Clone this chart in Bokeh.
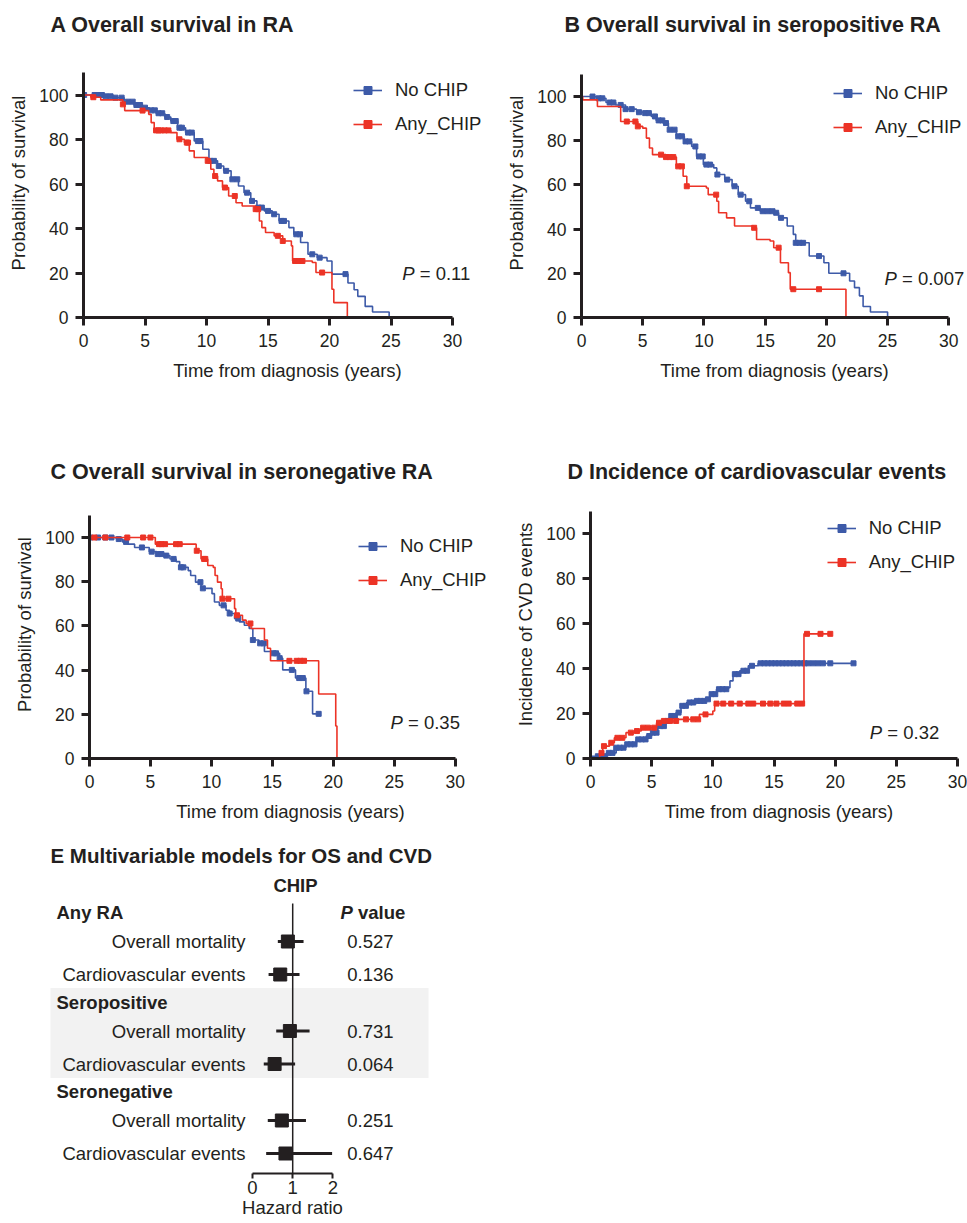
import numpy as np
from bokeh.plotting import figure
from bokeh.models import Range1d, FixedTicker, Label, Legend, LegendItem
from bokeh.layouts import column, row
from bokeh.core.properties import value
from bokeh.embed import file_html
from bokeh.resources import INLINE

FONT = "Liberation Sans"
INK = "#231f20"
BLUE = "#3d5aa8"
RED = "#ec3326"

# ---------------- data ----------------
x_ticks = [0, 5, 10, 15, 20, 25, 30]
y_ticks = [0, 20, 40, 60, 80, 100]
group_labels = ["No CHIP", "Any_CHIP"]
x_label = "Time from diagnosis (years)"
panel_titles = ["A Overall survival in RA", "B Overall survival in seropositive RA",
                "C Overall survival in seronegative RA", "D Incidence of cardiovascular events"]
panel_ylabels = ["Probability of survival", "Probability of survival",
                 "Probability of survival", "Incidence of CVD events"]
panel_pvalues = ["0.11", "0.007", "0.35", "0.32"]

# Panel A
A_no_t = [0, 1.7, 2.5, 3.3, 4.1, 4.8, 5.35, 5.9, 6.6, 7.1, 7.65, 8.3, 9.0, 9.7, 10.2, 10.9, 11.4, 12.0, 12.6, 13.05,
          13.6, 14.1, 14.7, 15.35, 15.9, 16.7, 17.1, 17.65, 18.25, 19.0, 19.8, 20.2, 21.5, 22.0, 22.3, 22.9, 23.5, 24.85]
A_no_s = [100, 99.4, 98.8, 97.0, 95.5, 94.3, 93.1, 91.8, 90.1, 88.3, 85.3, 83.1, 79.3, 75.6, 70.4, 68.1, 65.9, 62.1, 59.1, 56.1,
          52.4, 49.4, 47.9, 46.4, 43.4, 40.4, 37.4, 33.7, 28.4, 26.9, 25.4, 19.5, 15.5, 12.5, 9.5, 5.0, 2.5, 0]
A_no_c = [0.05, 0.9, 1.2, 1.5, 1.8, 2.2, 2.6, 3.1, 3.6, 4.0, 4.3, 4.6, 5.0, 5.5, 5.8, 6.1, 6.4, 6.8, 7.3, 7.5, 7.8, 8.0,
          8.5, 8.8, 9.3, 9.5, 10.3, 10.6, 11.0, 11.6, 12.1, 12.5, 13.3, 13.7, 14.2, 14.5, 15.0, 15.5, 16.1, 16.3, 17.3,
          17.6, 18.6, 19.2, 21.3]
A_any_t = [0, 0.6, 1.4, 3.2, 3.35, 5.3, 5.5, 5.75, 7.1, 7.6, 8.2, 8.6, 9.0, 10.1, 10.35, 10.6, 10.9, 11.3, 11.8, 12.4,
           12.9, 14.0, 14.3, 14.5, 14.8, 15.5, 16.2, 16.9, 17.0, 18.6, 18.9, 20.2, 20.35, 21.45]
A_any_s = [100, 99.0, 97.8, 95.8, 93.0, 91.3, 87.6, 84.1, 83.1, 80.1, 78.6, 74.9, 71.9, 70.4, 66.6, 63.6, 61.4, 58.4, 54.6, 51.6,
           50.1, 48.7, 43.4, 40.4, 38.2, 36.7, 34.4, 32.2, 25.4, 24.7, 20.2, 12.7, 6.7, 0]
A_any_c = [0.8, 3.2, 4.8, 5.9, 6.1, 6.3, 6.6, 6.9, 7.8, 8.4, 8.5, 10.1, 10.7, 11.5, 12.3, 14.0, 14.2, 15.8, 16.2, 17.2,
           17.5, 17.8, 19.4]

# Panel B
B_no_t = [0, 1.2, 2.0, 2.8, 3.6, 4.5, 5.15, 5.7, 6.1, 6.65, 7.1, 7.75, 8.4, 9.0, 9.4, 9.95, 10.8, 11.05, 11.7, 12.3,
          12.8, 13.4, 13.8, 14.6, 15.7, 16.1, 16.8, 17.3, 17.5, 18.6, 19.8, 20.2, 21.9, 22.3, 22.7, 23.0, 23.6, 25.0]
B_no_s = [100, 99.2, 97.3, 96.2, 94.3, 92.9, 92.5, 91.0, 89.2, 88.0, 85.0, 82.0, 79.7, 77.4, 72.9, 69.2, 67.7, 64.7, 62.4, 59.4,
          55.6, 52.6, 49.6, 48.1, 47.4, 45.1, 41.4, 37.6, 33.8, 27.8, 24.8, 20.0, 16.5, 13.5, 9.8, 5.0, 2.5, 0]
B_no_c = [0.9, 1.4, 1.7, 2.3, 2.6, 3.2, 3.6, 4.1, 4.7, 5.2, 5.5, 6.0, 6.3, 6.6, 6.9, 7.2, 7.6, 7.9, 8.2, 8.5, 8.8, 9.3,
          9.6, 9.9, 10.2, 10.5, 11.1, 11.9, 12.5, 13.0, 13.7, 14.4, 14.8, 15.2, 15.6, 15.9, 16.3, 17.5, 17.8, 18.1,
          19.4, 21.4]
B_any_t = [0, 0.1, 1.3, 3.2, 4.6, 5.0, 5.3, 5.55, 5.8, 6.9, 7.75, 8.3, 8.6, 10.2, 10.35, 11.05, 11.2, 11.85, 12.5, 14.05,
           14.3, 15.4, 15.7, 16.25, 16.9, 17.05, 21.6]
B_any_s = [100, 98.5, 95.5, 88.7, 86.5, 85.7, 81.2, 76.7, 73.7, 72.6, 68.4, 63.9, 59.4, 58.6, 55.6, 52.6, 47.4, 45.1, 41.4, 40.6,
           35.3, 34.6, 31.6, 24.8, 20.3, 12.8, 0]
B_any_c = [3.7, 4.4, 4.6, 6.5, 6.9, 7.2, 7.5, 7.9, 8.2, 8.6, 11.0, 14.1, 16.1, 17.3, 19.4]

# Panel C
C_no_t = [0, 2.2, 2.7, 3.15, 3.7, 4.9, 5.5, 6.3, 6.6, 7.1, 7.4, 8.1, 8.3, 8.7, 9.15, 10.05, 10.25, 10.65, 11.2, 11.5,
          11.9, 12.3, 12.7, 13.1, 13.4, 13.9, 14.35, 15.0, 15.6, 15.85, 16.9, 17.75, 18.3, 18.8]
C_no_s = [100, 99.3, 98.0, 97.0, 95.5, 93.6, 92.5, 91.8, 90.3, 89.1, 86.5, 85.0, 82.8, 79.8, 77.0, 74.6, 70.8, 69.3, 67.1, 65.6,
          63.3, 61.8, 60.3, 58.8, 53.6, 52.1, 48.4, 47.6, 45.4, 40.1, 36.4, 30.4, 20.2, 20.2]
C_no_c = [0.05, 0.7, 1.3, 1.8, 2.4, 3.0, 4.3, 5.1, 5.6, 5.9, 6.3, 6.9, 7.5, 7.7, 9.1, 9.3, 11.0, 11.5, 12.2, 13.4, 14.0,
          14.3, 15.1, 15.3, 15.6, 16.6, 17.2, 17.5, 17.8, 18.8]
C_any_t = [0, 5.4, 8.75, 9.15, 9.7, 10.15, 10.3, 10.5, 10.8, 10.9, 11.9, 12.0, 12.55, 12.85, 13.25, 14.35, 14.6, 14.85,
           18.8, 20.2, 20.3]
C_any_s = [100, 97.0, 94.0, 90.3, 87.3, 86.5, 82.8, 79.8, 76.8, 72.3, 67.8, 64.8, 62.6, 61.1, 58.8, 53.6, 49.9, 44.2,
           29.2, 14.7, 0]
C_any_c = [0.4, 1.3, 3.1, 4.4, 5.0, 5.7, 5.9, 6.2, 7.1, 7.4, 8.8, 9.4, 9.5, 10.9, 11.4, 12.1, 13.2, 16.4, 17.0, 17.3, 17.6]

# Panel D (cumulative incidence)
D_no_t = [0, 0.5, 1.3, 2.1, 2.9, 3.75, 4.55, 5.0, 5.5, 6.1, 6.5, 7.0, 7.4, 7.85, 8.5, 9.35, 9.75, 10.3, 11.25, 11.4,
          11.65, 12.2, 12.9, 13.7, 21.5]
D_no_s = [0, 1.0, 2.5, 4.8, 6.3, 8.5, 10.0, 11.5, 14.4, 16.7, 18.9, 20.4, 23.4, 24.9, 25.6, 26.3, 28.6, 30.8, 31.5, 34.5,
          37.5, 39.0, 41.2, 42.3, 42.3]
D_no_c = [0.3, 0.6, 0.9, 1.2, 1.5, 1.8, 2.1, 2.4, 2.7, 3.0, 3.3, 3.6, 3.9, 4.2, 4.5, 4.8, 5.1, 5.4, 5.7, 6.0, 6.3, 6.6,
          6.9, 7.2, 7.5, 7.8, 8.1, 8.4, 8.7, 9.0, 9.3, 9.6, 9.9, 10.2, 10.5, 10.8, 11.1, 11.8, 12.1, 12.5, 12.8, 13.2,
          13.9, 14.2, 14.5, 14.8, 15.1, 15.4, 15.7, 16.0, 16.3, 16.6, 16.9, 17.2, 17.5, 17.8, 18.2, 18.6, 19.0, 19.6, 21.5]
D_any_t = [0, 0.35, 0.75, 1.0, 1.55, 1.95, 2.9, 3.6, 4.15, 5.4, 5.65, 7.15, 8.9, 10.0, 10.15, 17.45, 19.6]
D_any_s = [0, 0.3, 2.5, 5.5, 7.0, 9.2, 11.5, 12.2, 13.7, 15.9, 16.7, 17.4, 19.6, 21.1, 24.4, 55.4, 55.4]
D_any_c = [0.9, 1.1, 1.7, 2.2, 2.6, 3.3, 3.8, 4.3, 4.7, 5.2, 5.6, 6.0, 6.5, 7.0, 7.8, 8.4, 8.8, 9.4, 10.3, 10.85, 11.5,
           12.2, 12.9, 13.3, 14.1, 14.7, 15.2, 15.8, 16.2, 16.9, 17.3, 17.7, 18.8, 19.6]

# Panel E (forest plot)
E_title = "E Multivariable models for OS and CVD"
E_groups = ["Any RA", "Seropositive", "Seronegative"]
E_outcomes = ["Overall mortality", "Cardiovascular events"]
E_hr = [0.88, 0.69, 0.93, 0.55, 0.73, 0.82]
E_lo = [0.63, 0.40, 0.59, 0.28, 0.38, 0.34]
E_hi = [1.27, 1.17, 1.42, 1.06, 1.33, 1.98]
E_p = ["0.527", "0.136", "0.731", "0.064", "0.251", "0.647"]
E_ticks = [0, 1, 2]
E_xlabel = "Hazard ratio"

PAGE_W = 967
E_FRAME_L = 40   # left border shared by full-width plots in the column
E_FRAME_R = 4


# ---------------- helpers ----------------
def step_at(t, s, c):
    t = np.asarray(t, float)
    s = np.asarray(s, float)
    idx = np.searchsorted(t, np.asarray(c, float), side="right") - 1
    return s[np.clip(idx, 0, len(s) - 1)]


def style_axis(ax, size_tick="17.5px", size_label="18.5px"):
    ax.axis_line_width = 3
    ax.axis_line_color = INK
    ax.major_tick_line_width = 3
    ax.major_tick_line_color = INK
    ax.major_tick_out = 8
    ax.major_tick_in = 0
    ax.minor_tick_out = 0
    ax.minor_tick_in = 0
    ax.major_label_text_font = FONT
    ax.major_label_text_font_size = size_tick
    ax.major_label_text_color = INK
    ax.axis_label_text_font = FONT
    ax.axis_label_text_font_size = size_label
    ax.axis_label_text_font_style = "normal"
    ax.axis_label_text_color = INK


def title_strip(top, height, titles):
    """A blank strip that carries panel titles (page-pixel coordinates)."""
    s = figure(width=PAGE_W, height=height,
               x_range=Range1d(E_FRAME_L, PAGE_W - E_FRAME_R), y_range=Range1d(height, 0),
               output_backend="svg", toolbar_location=None, x_axis_location=None, y_axis_location=None,
               min_border_left=E_FRAME_L, min_border_right=E_FRAME_R, min_border_top=0, min_border_bottom=0)
    s.outline_line_color = None
    s.grid.visible = False
    for (txt, tx, ty) in titles:
        s.add_layout(Label(x=tx, y=ty - top, text=txt, text_font=FONT, text_font_size="21.5px",
                           text_font_style="bold", text_color=INK, text_baseline="middle", text_align="left"))
    return s


def km_panel(box, axes, ylabel, curves, pval, p_xy, legend_xy, br=4):
    fl, ft, fw, fh = box
    ax_x0, ax_x30, ax_y0, ax_y100 = axes
    ppx = (ax_x30 - ax_x0) / 30.0
    ppy = (ax_y0 - ax_y100) / 100.0
    bl = int(round(ax_x0 - fl))
    bb = int(round(ft + fh - ax_y0))
    fx0 = fl + bl
    fy0 = ft + fh - bb
    fwid = fw - bl - br
    fhei = fh - bb
    p = figure(width=fw, height=fh, x_range=Range1d(0, fwid / ppx), y_range=Range1d(0, fhei / ppy),
               output_backend="svg", toolbar_location=None,
               min_border_left=bl, min_border_right=br, min_border_top=0, min_border_bottom=bb)
    p.outline_line_color = None
    p.grid.visible = False
    p.background_fill_color = "white"
    p.border_fill_color = "white"

    def X(px):
        return (px - fx0) / ppx

    def Y(py):
        return (fy0 - py) / ppy

    items = []
    for (t, s, c, color, lab) in curves:
        lr = p.step(t, s, mode="after", line_color=color, line_width=1.6)
        sr = p.scatter(c, step_at(t, s, c), marker="square", size=5, fill_color=color, line_color=color)
        items.append(LegendItem(label=lab, renderers=[lr, sr]))

    style_axis(p.xaxis[0])
    style_axis(p.yaxis[0])
    p.xaxis.ticker = FixedTicker(ticks=x_ticks)
    p.yaxis.ticker = FixedTicker(ticks=y_ticks)
    p.xaxis.bounds = (0, 30)
    p.yaxis.bounds = (0, 110)
    p.xaxis.axis_label = x_label
    p.yaxis.axis_label = ylabel
    p.xaxis.major_label_standoff = 8
    p.xaxis.axis_label_standoff = 10
    p.yaxis.major_label_standoff = 7
    p.yaxis.axis_label_standoff = 7

    lx, lc = legend_xy
    top = lc - 10.5
    legend = Legend(items=items, location=(lx - fx0, fy0 - (top + 54)), orientation="vertical",
                    padding=0, margin=0, spacing=12, glyph_width=29, glyph_height=20, label_height=20,
                    label_standoff=13, label_text_font=FONT, label_text_font_size="18.5px",
                    label_text_color=INK, background_fill_alpha=0, border_line_alpha=0)
    p.add_layout(legend)

    px_, py_ = p_xy
    p.add_layout(Label(x=X(px_), y=Y(py_), text="P", text_font=FONT, text_font_size="18.5px",
                       text_font_style="italic", text_color=INK, text_baseline="middle", text_align="left"))
    p.add_layout(Label(x=X(px_), y=Y(py_), x_offset=17.5, text="= " + pval, text_font=FONT,
                       text_font_size="18.5px", text_color=INK, text_baseline="middle", text_align="left"))
    return p


strip1 = title_strip(0, 48, [(panel_titles[0], 50, 24), (panel_titles[1], 564, 24)])
pA = km_panel((0, 48, 495, 380), (82.7, 451.7, 317.3, 94.8), panel_ylabels[0],
              [(A_no_t, A_no_s, A_no_c, BLUE, group_labels[0]), (A_any_t, A_any_s, A_any_c, RED, group_labels[1])],
              panel_pvalues[0], (401.7, 273.3), (353, 91))
pB = km_panel((495, 48, 472, 380), (581, 948.3, 319.3, 96.7), panel_ylabels[1],
              [(B_no_t, B_no_s, B_no_c, BLUE, group_labels[0]), (B_any_t, B_any_s, B_any_c, RED, group_labels[1])],
              panel_pvalues[1], (884, 280), (833, 96.7), br=0)
strip2 = title_strip(428, 62, [(panel_titles[2], 50, 471.7), (panel_titles[3], 567, 471)])
pC = km_panel((0, 490, 495, 338), (89.3, 455, 757.7, 536.7), panel_ylabels[2],
              [(C_no_t, C_no_s, C_no_c, BLUE, group_labels[0]), (C_any_t, C_any_s, C_any_c, RED, group_labels[1])],
              panel_pvalues[2], (390, 721.7), (358, 547.3))
pD = km_panel((495, 490, 472, 338), (590, 957, 758.3, 533.3), panel_ylabels[3],
              [(D_no_t, D_no_s, D_no_c, BLUE, group_labels[0]), (D_any_t, D_any_s, D_any_c, RED, group_labels[1])],
              panel_pvalues[3], (869.3, 731.7), (826.7, 529.3), br=0)

# ---------------- forest plot ----------------
E_HR0 = 252.0
E_PPU = 40.2
E_AXIS_MID = E_HR0 + E_PPU * 1.0           # axis label is centred on the frame: make the frame symmetric
e_frame_r = int(round(2 * E_AXIS_MID - E_FRAME_L))
efl, eft, efh = 0, 828, 394
efw = e_frame_r + E_FRAME_R - efl
e_axis_y = 1173


def ex(px):
    return (px - E_HR0) / E_PPU


pE = figure(width=efw, height=efh, x_range=Range1d(ex(E_FRAME_L), ex(e_frame_r)),
            y_range=Range1d(e_axis_y, eft), output_backend="svg", toolbar_location=None,
            min_border_left=E_FRAME_L - efl, min_border_right=E_FRAME_R, min_border_top=0,
            min_border_bottom=eft + efh - e_axis_y, y_axis_location=None)
pE.outline_line_color = None
pE.grid.visible = False

head_y = [912 + g * 89.5 for g in range(len(E_groups))]
row_y = [912 + g * 89.5 + 29 + 33 * k for g in range(len(E_groups)) for k in range(len(E_outcomes))]
row_lab = [E_outcomes[k] for g in range(len(E_groups)) for k in range(len(E_outcomes))]

pE.quad(left=[ex(50)], right=[ex(428)], top=[head_y[1] - 14], bottom=[row_y[3] + 14],
        fill_color="#f2f2f2", line_color=None)
pE.segment(x0=[1], y0=[903], x1=[1], y1=[e_axis_y], line_color=INK, line_width=1.5)
pE.segment(x0=E_lo, y0=row_y, x1=E_hi, y1=row_y, line_color=INK, line_width=3)
pE.scatter(E_hr, row_y, marker="square", size=13, fill_color=INK, line_color=INK)

txt = dict(text_font=value(FONT), text_font_size=value("18.5px"), text_color=INK, text_baseline=value("middle"))
pE.text(x=[ex(245)] * len(row_y), y=row_y, text=row_lab, text_align=value("right"), **txt)
pE.text(x=[ex(56)] * len(head_y), y=head_y, text=E_groups, text_align=value("left"),
        text_font_style=value("bold"), **txt)
pE.text(x=[ex(346.7)] * len(row_y), y=row_y, text=E_p, text_align=value("left"), **txt)
pE.text(x=[ex(295)], y=[885], text=["CHIP"], text_align=value("center"), text_font_style=value("bold"), **txt)
pE.text(x=[ex(340)], y=[head_y[0]], text=["P"], text_align=value("left"), text_font_style=value("bold italic"), **txt)
pE.text(x=[ex(357.5)], y=[head_y[0]], text=["value"], text_align=value("left"), text_font_style=value("bold"), **txt)
pE.add_layout(Label(x=ex(50), y=855, text=E_title, text_font=FONT, text_font_size="20.5px",
                    text_font_style="bold", text_color=INK, text_baseline="middle", text_align="left"))

style_axis(pE.xaxis[0], "18.5px", "18.5px")
pE.xaxis.axis_line_width = 2
pE.xaxis.major_tick_line_width = 2
pE.xaxis.major_tick_out = 5
pE.xaxis.ticker = FixedTicker(ticks=E_ticks)
pE.xaxis.bounds = (0, 2)
pE.xaxis.axis_label = E_xlabel
pE.xaxis.major_label_standoff = 2
pE.xaxis.axis_label_standoff = 0

layout = column(strip1, row(pA, pB), strip2, row(pC, pD), pE)
open("out.html", "w").write(file_html(layout, INLINE))
